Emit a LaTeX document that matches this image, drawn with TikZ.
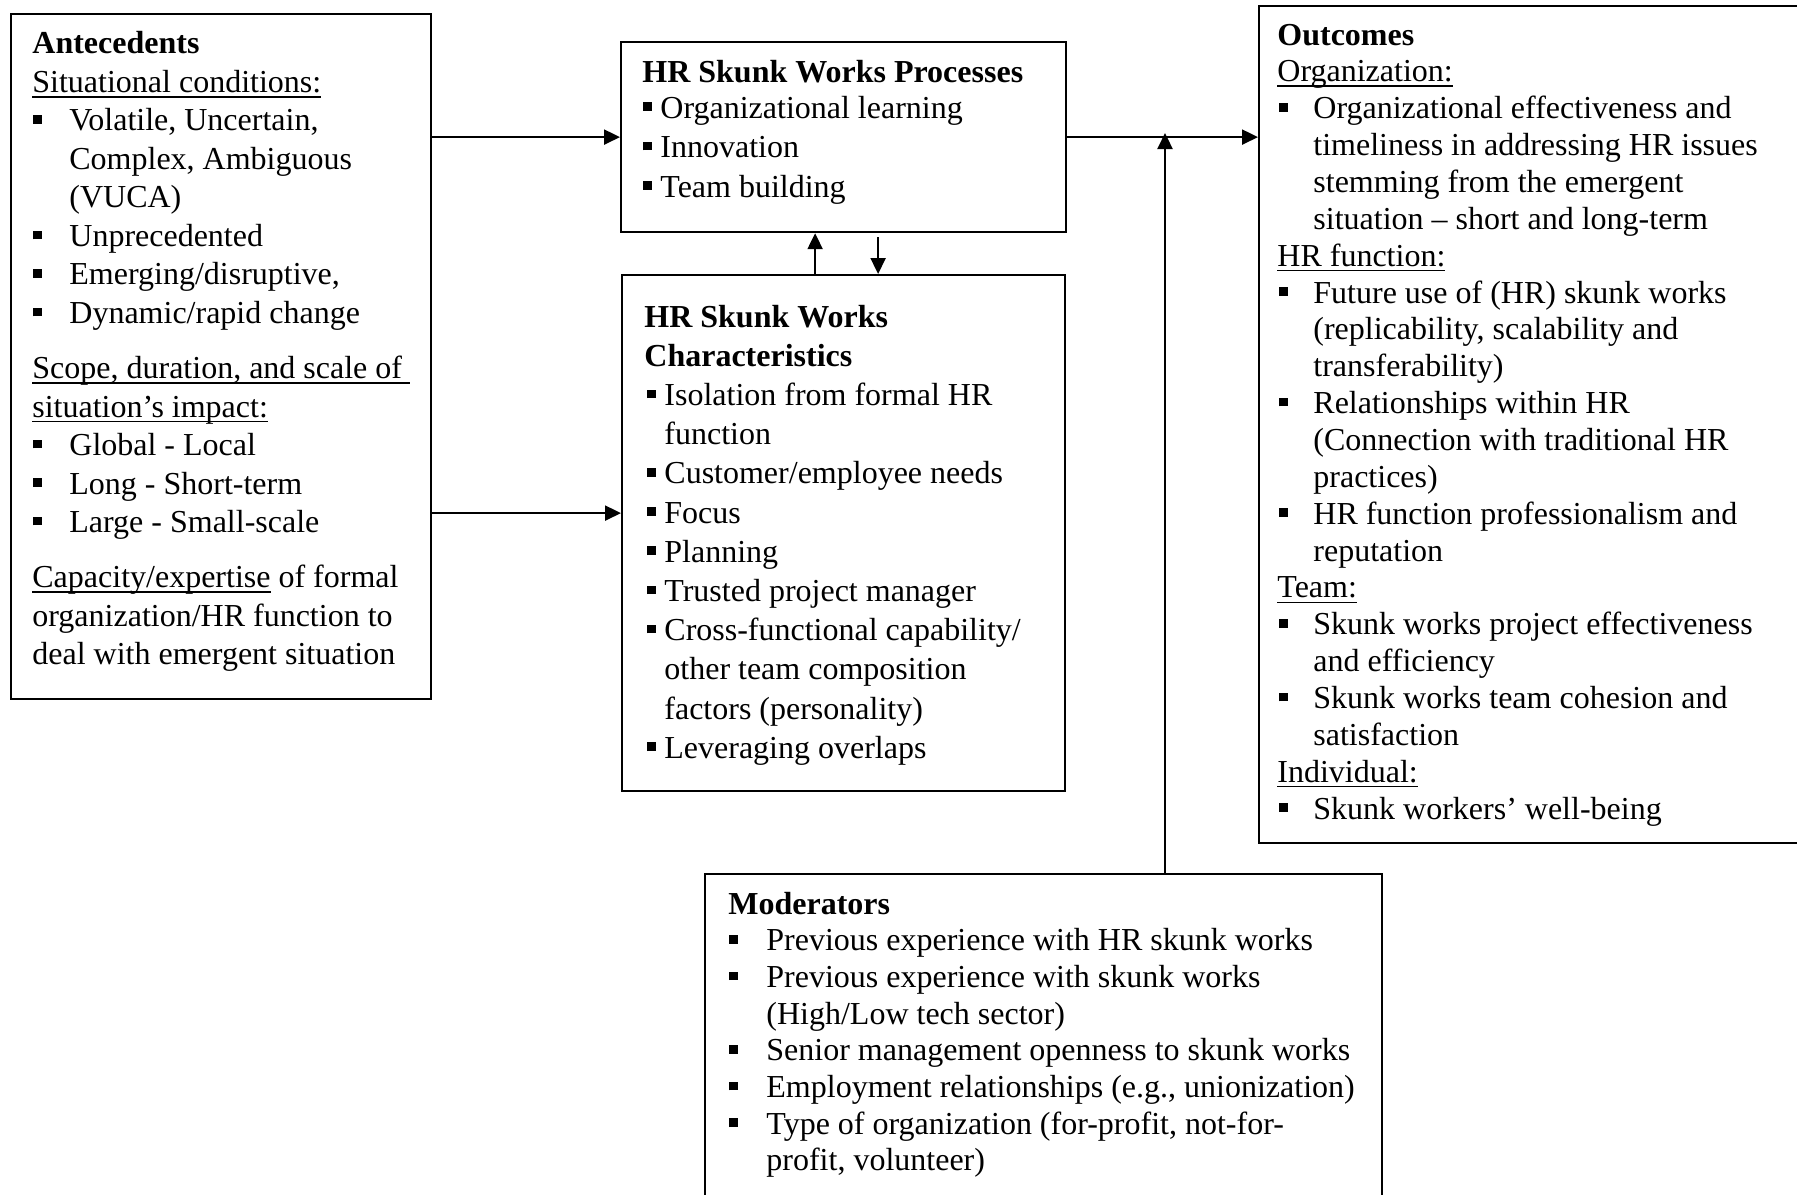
\documentclass[tikz,border=0pt]{standalone}
\usepackage{fontspec}
\setmainfont{Liberation Serif}
\usetikzlibrary{arrows.meta}
\newcommand{\bul}{\rule[3.6pt]{4.3pt}{4.3pt}}
\newcommand{\B}[2]{\hspace*{#1}\makebox[#2][l]{\bul}}
\newcommand{\uln}[1]{\setbox0\hbox{#1}\rlap{\rule[-2.6pt]{\wd0}{0.8pt}}\box0\relax}
\tikzset{
  box/.style={draw, line width=1.1pt, rectangle, inner sep=0pt, anchor=north west},
  txt/.style={inner sep=0pt, anchor=base west},
  arr/.style={line width=1.1pt, -{Triangle[length=8pt,width=7.5pt]}},
}
\begin{document}
\begin{tikzpicture}[x=0.5pt,y=-0.5pt]
\useasboundingbox (0,0) rectangle (1797,1194);
\fill[white] (0,0) rectangle (1797,1194);

% boxes
\node[box, minimum width=210pt, minimum height=342.5pt] (ant) at (10,13) {};
\node[box, minimum width=222.5pt, minimum height=95pt] (proc) at (620,41) {};
\node[box, minimum width=221.5pt, minimum height=258pt] (char) at (621,274) {};
\node[box, minimum width=272pt, minimum height=418.5pt] (out) at (1258,5) {};
\node[box, minimum width=338.5pt, minimum height=170pt] (mod) at (704,873) {};

% texts
\node[txt] (antt) at (32,54) {\parbox[t]{250pt}{\fontsize{16pt}{19.25pt}\selectfont
\textbf{Antecedents}\\
\uln{Situational conditions:}\\
\B{0.5pt}{18pt}Volatile, Uncertain,\\
\hspace*{18.5pt}Complex, Ambiguous\\
\hspace*{18.5pt}(VUCA)\\
\B{0.5pt}{18pt}Unprecedented\\
\B{0.5pt}{18pt}Emerging/disruptive,\\
\B{0.5pt}{18pt}Dynamic/rapid change\\[8.25pt]
\uln{Scope, duration, and scale of\ }\\
\uln{situation’s impact:}\\
\B{0.5pt}{18pt}Global - Local\\
\B{0.5pt}{18pt}Long - Short-term\\
\B{0.5pt}{18pt}Large - Small-scale\\[8.25pt]
\uln{Capacity/expertise} of formal\\
organization/HR function to\\
deal with emergent situation}};

\node[txt] (proct) at (642,82) {\parbox[t]{250pt}{\fontsize{16pt}{19.75pt}\selectfont
\textbf{HR Skunk Works Processes}\\[-1.75pt]
\B{0.5pt}{8.5pt}Organizational learning\\
\B{0.5pt}{8.5pt}Innovation\\
\B{0.5pt}{8.5pt}Team building}};

\node[txt] (chart) at (644,327) {\parbox[t]{250pt}{\fontsize{16pt}{19.6pt}\selectfont
\textbf{HR Skunk Works}\\
\textbf{Characteristics}\\
\B{1.25pt}{8.75pt}Isolation from formal HR\\
\hspace*{10pt}function\\
\B{1.25pt}{8.75pt}Customer/employee needs\\
\B{1.25pt}{8.75pt}Focus\\
\B{1.25pt}{8.75pt}Planning\\
\B{1.25pt}{8.75pt}Trusted project manager\\
\B{1.25pt}{8.75pt}Cross-functional capability/\\
\hspace*{10pt}other team composition\\
\hspace*{10pt}factors (personality)\\
\B{1.25pt}{8.75pt}Leveraging overlaps}};

\node[txt] (outt) at (1277,45) {\parbox[t]{300pt}{\fontsize{16pt}{18.43pt}\selectfont
\textbf{Outcomes}\\
\uln{Organization:}\\
\B{1pt}{17pt}Organizational effectiveness and\\
\hspace*{18pt}timeliness in addressing HR issues\\
\hspace*{18pt}stemming from the emergent\\
\hspace*{18pt}situation – short and long-term\\
\uln{HR function:}\\
\B{1pt}{17pt}Future use of (HR) skunk works\\
\hspace*{18pt}(replicability, scalability and\\
\hspace*{18pt}transferability)\\
\B{1pt}{17pt}Relationships within HR\\
\hspace*{18pt}(Connection with traditional HR\\
\hspace*{18pt}practices)\\
\B{1pt}{17pt}HR function professionalism and\\
\hspace*{18pt}reputation\\
\uln{Team:}\\
\B{1pt}{17pt}Skunk works project effectiveness\\
\hspace*{18pt}and efficiency\\
\B{1pt}{17pt}Skunk works team cohesion and\\
\hspace*{18pt}satisfaction\\
\uln{Individual:}\\
\B{1pt}{17pt}Skunk workers’ well-being}};

\node[txt] (modt) at (728,914) {\parbox[t]{320pt}{\fontsize{16pt}{18.35pt}\selectfont
\textbf{Moderators}\\
\B{0.5pt}{18.5pt}Previous experience with HR skunk works\\
\B{0.5pt}{18.5pt}Previous experience with skunk works\\
\hspace*{19pt}(High/Low tech sector)\\
\B{0.5pt}{18.5pt}Senior management openness to skunk works\\
\B{0.5pt}{18.5pt}Employment relationships (e.g., unionization)\\
\B{0.5pt}{18.5pt}Type of organization (for-profit, not-for-\\
\hspace*{19pt}profit, volunteer)}};

% connectors
\coordinate (c2) at ([yshift=10pt]char.west);
\coordinate (j) at (1165,133);
\draw[arr] (ant.east |- proc.west) -- (proc.west);
\draw[arr] (ant.east |- c2) -- (c2);
\draw[arr] (proc.east) -- (out.west |- proc.east);
\draw[arr] (mod.north -| j) -- (j);
\draw[arr] ([xshift=-14.25pt]char.north) -- ([xshift=-14.25pt]proc.south);
\draw[arr] ([xshift=17.25pt,yshift=-2pt]proc.south) -- ([xshift=17.25pt]char.north);
\end{tikzpicture}
\end{document}
